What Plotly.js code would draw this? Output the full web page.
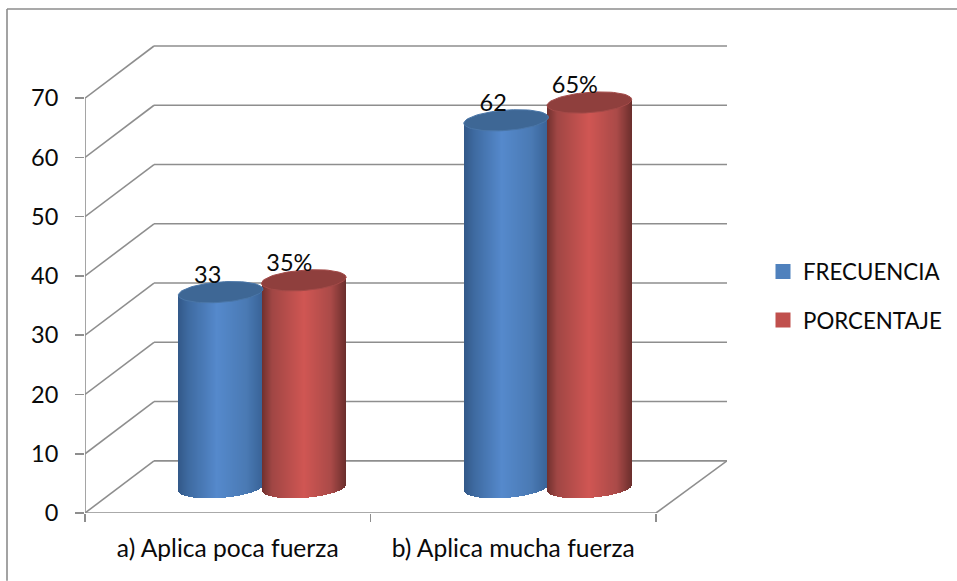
<!DOCTYPE html>
<html>
<head>
<meta charset="utf-8">
<script src="https://cdn.plot.ly/plotly-3.0.1.min.js"></script>
<style>html,body{margin:0;padding:0;background:#fff;overflow:hidden}#chart{width:957px;height:581px}</style>
</head>
<body>
<div id="chart"></div>
<script>
// Data
var categories = ['a) Aplica poca fuerza', 'b) Aplica mucha fuerza'];
var frecuencia = [33, 62];
var porcentaje = [35, 65];
var frecuenciaLabels = ['33', '62'];
var porcentajeLabels = ['35%', '65%'];
var yTicks = [0, 10, 20, 30, 40, 50, 60, 70];
var seriesNames = ['FRECUENCIA', 'PORCENTAJE'];

// Style and projection settings
var FONT = 'Lato, Carlito, Calibri, sans-serif';
var INK = '#0a0a0a';
var GRID = '#8e8e8e';
var pxX = 285.5, pxY = 5.93;
var xMin = -0.5, xMax = 1.5 + 71 / pxX;
var depthX = 69 / pxX, depthY = 52.2 / pxY;
var midX = 34.5 / pxX, midY = 25.3 / pxY;
var rx = 42.3 / pxX, ry = 10.2 / pxY, shear = 3 / pxY;
var barShift = 41.6 / pxX;
var blueStops = [[0,[50,88,136]],[0.12,[62,106,160]],[0.45,[85,137,204]],[0.8,[74,122,180]],[1,[56,98,150]]];
var redStops = [[0,[112,48,46]],[0.12,[160,70,68]],[0.5,[208,86,83]],[0.82,[170,74,72]],[1,[106,46,44]]];

function shade(stops, f) {
  for (var i = 1; i < stops.length; i++) {
    if (f <= stops[i][0]) {
      var a = stops[i-1], b = stops[i], t = (f - a[0]) / (b[0] - a[0]);
      return 'rgb(' + [0,1,2].map(function(k){ return Math.round(a[1][k] + t * (b[1][k] - a[1][k])); }).join(',') + ')';
    }
  }
  return 'rgb(' + stops[stops.length-1][1].join(',') + ')';
}

// A cylinder body is a bar trace of thin vertical slices, scaled by the axes.
function body(cat, value, sign, stops) {
  var cx = cat + midX + sign * barShift;
  var xs = [], bases = [], heights = [], cols = [], n = 84;
  var slice = 2 * rx / n;
  for (var i = 0; i < n; i++) {
    var u = (i + 0.5) / n * 2 - 1;
    var low = midY + shear * u - ry * Math.sqrt(1 - u * u);
    var top = value + midY + shear * u;
    xs.push(cx + u * rx); bases.push(low); heights.push(top - low); cols.push(shade(stops, (u + 1) / 2));
  }
  return {type:'bar', x:xs, y:heights, base:bases, width:slice * 1.02, showlegend:false, hoverinfo:'skip',
          marker:{color:cols, line:{width:0}}};
}
function lid(cat, value, sign, fill, rim) {
  var cx = cat + midX + sign * barShift, xs = [], ys = [];
  for (var i = 0; i <= 72; i++) {
    var t = i / 72 * 2 * Math.PI;
    xs.push(cx + rx * Math.cos(t));
    ys.push(value + midY + shear * Math.cos(t) + ry * Math.sin(t));
  }
  return {type:'scatter', mode:'lines', x:xs, y:ys, fill:'toself', fillcolor:fill,
          line:{color:rim, width:1}, showlegend:false, hoverinfo:'skip', cliponaxis:false};
}

var traces = [];
[0,1].forEach(function(c){ traces.push(body(c, frecuencia[c], -1, blueStops)); traces.push(body(c, porcentaje[c], 1, redStops)); });
[0,1].forEach(function(c){
  traces.push(lid(c, frecuencia[c], -1, '#3e6795', '#4a76a8'));
  traces.push(lid(c, porcentaje[c], 1, '#8f3f3d', '#a34a48'));
});
// Data labels
function labelX(sign, px){ return [0,1].map(function(c){ return c + midX + sign * barShift + px / pxX; }); }
function labelTrace(vals, texts, sign, px) {
  return {type:'scatter', mode:'text', x:labelX(sign, px),
          y:vals.map(function(v){ return v + midY + 15.5 / pxY; }), text:texts, textposition:'middle center',
          textfont:{family:FONT, size:23.5, color:INK}, showlegend:false, hoverinfo:'skip', cliponaxis:false};
}
traces.push(labelTrace(frecuencia, frecuenciaLabels, -1, -13));
traces.push(labelTrace(porcentaje, porcentajeLabels, 1, -14.5));
// Legend entries
traces.push({type:'scatter', mode:'markers', x:[null], y:[null], name:seriesNames[0], legendgroup:'a',
             marker:{symbol:'square', size:15, color:'#4f81bd'}, hoverinfo:'skip'});
traces.push({type:'scatter', mode:'markers', x:[null], y:[null], name:seriesNames[1], legendgroup:'b',
             marker:{symbol:'square', size:15, color:'#c0504d'}, hoverinfo:'skip'});

// Walls, floor and axis lines go behind the traces.
var shapes = [];
function seg(x0, y0, x1, y1) {
  shapes.push({type:'line', xref:'x', yref:'y', x0:x0, y0:y0, x1:x1, y1:y1, layer:'below', line:{color:GRID, width:1.6}});
}
yTicks.forEach(function(v){
  seg(xMin, v, xMin + depthX, v + depthY);
  seg(xMin + depthX, v + depthY, xMax, v + depthY);
});
seg(xMin, 0, xMin, yTicks[yTicks.length-1]);
seg(xMin, 0, 1.5, 0);
seg(1.5, 0, xMax, depthY);
// Outer frame: only the top and left edges fall inside the picture
var fx = function(px){ return (px - 85) / (957 - 85 - 230); };
var fy = function(px){ return 1 - (px - 45) / (513.3 - 45); };
shapes.push({type:'line', xref:'paper', yref:'paper', x0:fx(7), y0:fy(9), x1:fx(957), y1:fy(9), layer:'below', line:{color:'#8c8c8c', width:1.6}});
shapes.push({type:'line', xref:'paper', yref:'paper', x0:fx(7), y0:fy(9), x1:fx(7), y1:fy(581), layer:'below', line:{color:'#8c8c8c', width:1.6}});

var layout = {
  width:957, height:581, paper_bgcolor:'#fff', plot_bgcolor:'rgba(0,0,0,0)',
  margin:{l:85, r:230, t:45, b:67.7, pad:0},
  barmode:'overlay', bargap:0,
  font:{family:FONT, size:22, color:INK},
  showlegend:true,
  legend:{xref:'container', yref:'container', x:763/957, y:1-(250.5/581), xanchor:'left', yanchor:'top',
          tracegroupgap:16.5, bgcolor:'rgba(0,0,0,0)', font:{family:FONT, size:22.3, color:INK}, borderwidth:0},
  xaxis:{range:[xMin, xMax], tickmode:'array', tickvals:[0,1], ticktext:categories, ticks:'', showgrid:false, zeroline:false,
         showline:false, ticklabelstandoff:18, tickfont:{family:FONT, size:24.6, color:INK},
         minor:{tickmode:'array', tickvals:[-0.5,0.5,1.5], ticks:'outside', ticklen:8, tickcolor:GRID, tickwidth:1.6, showgrid:false}},
  yaxis:{range:[0, (513.3-45)/pxY], tickmode:'array', tickvals:yTicks, ticks:'outside', ticklen:9, tickcolor:GRID, tickwidth:1.6,
         showgrid:false, zeroline:false, showline:false, ticklabelstandoff:12, tickfont:{family:FONT, size:23.5, color:INK}},
  shapes:shapes
};
Plotly.newPlot('chart', traces, layout, {displayModeBar:false, staticPlot:true});
</script>
</body>
</html>
